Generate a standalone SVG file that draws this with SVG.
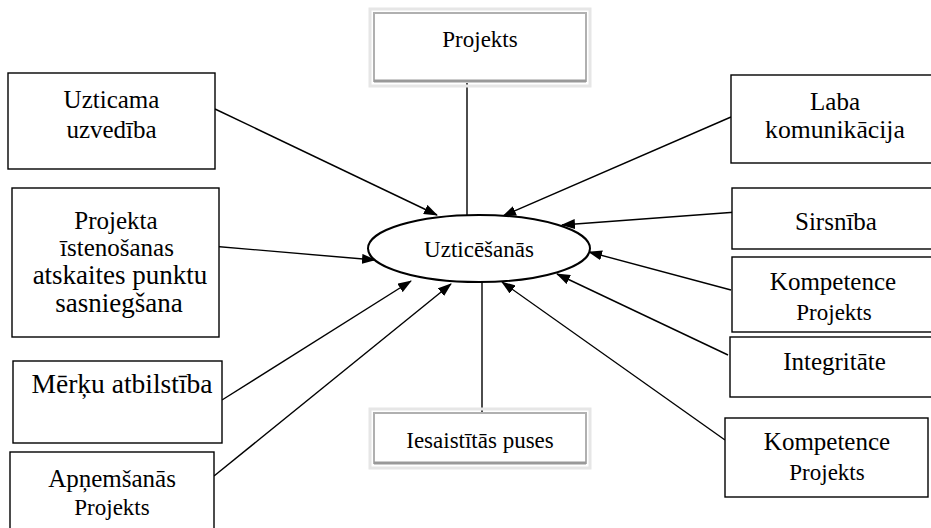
<svg xmlns="http://www.w3.org/2000/svg" width="931" height="528" viewBox="0 0 931 528">
<defs>
<style>
.box{fill:#fff;stroke:#000;stroke-width:1.4}
.sh-out{fill:none;stroke:#e6e6e6;stroke-width:3}
.sh-in{fill:#fff;stroke:#b0b0b0;stroke-width:2}
text{font-family:'Liberation Serif','Times New Roman',Times,serif;fill:#000;text-anchor:middle}
.f25{font-size:25px}
.f23{font-size:23px}
.f27{font-size:27px}
.c{stroke:#000;stroke-width:1.4;fill:none}
</style>
<marker id="ah" viewBox="0 0 14 10" refX="13" refY="5" markerWidth="14" markerHeight="10" markerUnits="userSpaceOnUse" orient="auto">
<path d="M0,0 L14,5 L0,10 z" fill="#000"/>
</marker>
</defs>
<rect width="931" height="528" fill="#fff"/>

<g id="connectors">
<line class="c" x1="467" y1="83" x2="467" y2="215"/>
<line class="c" x1="482" y1="282" x2="482" y2="412"/>
<line class="c" x1="215" y1="109" x2="437" y2="215" marker-end="url(#ah)"/>
<line class="c" x1="211" y1="246" x2="375" y2="260" marker-end="url(#ah)"/>
<line class="c" x1="222" y1="400" x2="411" y2="281" marker-end="url(#ah)"/>
<line class="c" x1="214" y1="476" x2="451" y2="284" marker-end="url(#ah)"/>
<line class="c" x1="731" y1="117" x2="503" y2="216" marker-end="url(#ah)"/>
<line class="c" x1="737" y1="212" x2="562" y2="225" marker-end="url(#ah)"/>
<line class="c" x1="731" y1="290" x2="589" y2="252" marker-end="url(#ah)"/>
<line class="c" x1="728" y1="355" x2="557" y2="274" marker-end="url(#ah)"/>
<line class="c" x1="725" y1="440" x2="502" y2="282" marker-end="url(#ah)"/>
</g>

<g id="n-projekts-top">
<rect class="sh-out" x="370" y="9" width="220" height="77"/>
<rect class="sh-in" x="374" y="13" width="212" height="68"/>
<line x1="374" y1="81" x2="586" y2="81" stroke="#999" stroke-width="3"/>
<text class="f23" x="480" y="47">Projekts</text>
</g>

<g id="n-uzticesanas">
<ellipse cx="479" cy="248.5" rx="111" ry="33.5" fill="#fff" stroke="#000" stroke-width="2"/>
<text class="f23" x="479" y="257">Uzticēšanās</text>
</g>

<g id="n-iesaistitas">
<rect class="sh-out" x="370" y="409" width="220" height="59"/>
<rect class="sh-in" x="374" y="413" width="212" height="50"/>
<line x1="374" y1="463" x2="586" y2="463" stroke="#999" stroke-width="3"/>
<text class="f23" x="480" y="448">Iesaistītās puses</text>
</g>

<g id="n-uzticama">
<rect class="box" x="8" y="73" width="207" height="96"/>
<text class="f25" x="111.5" y="108">Uzticama</text>
<text class="f25" x="111.5" y="138">uzvedība</text>
</g>

<g id="n-projekta">
<rect class="box" x="12" y="188" width="207" height="149"/>
<text class="f25" x="116" y="229">Projekta</text>
<text class="f25" x="117" y="256">īstenošanas</text>
<text class="f27" x="120" y="284">atskaites punktu</text>
<text class="f27" x="119" y="312">sasniegšana</text>
</g>

<g id="n-merku">
<rect class="box" x="13" y="361" width="209" height="82"/>
<text x="122" y="393" font-size="27.5">Mērķu atbilstība</text>
</g>

<g id="n-apnemsanas">
<rect class="box" x="10" y="452" width="204" height="90"/>
<text class="f25" x="112" y="487">Apņemšanās</text>
<text class="f23" x="112" y="515">Projekts</text>
</g>

<g id="n-laba">
<rect class="box" x="731" y="75" width="220" height="88"/>
<text class="f25" x="835" y="110">Laba</text>
<text x="835" y="138" font-size="25.7">komunikācija</text>
</g>

<g id="n-sirsniba">
<rect class="box" x="732" y="188" width="220" height="61"/>
<text class="f25" x="836" y="230">Sirsnība</text>
</g>

<g id="n-kompetence1">
<rect class="box" x="732" y="257" width="220" height="75"/>
<text class="f25" x="833" y="290">Kompetence</text>
<text class="f23" x="834" y="320">Projekts</text>
</g>

<g id="n-integritate">
<rect class="box" x="730" y="337" width="220" height="60"/>
<text class="f25" x="834.5" y="370">Integritāte</text>
</g>

<g id="n-kompetence2">
<rect class="box" x="725" y="418" width="203" height="79"/>
<text class="f25" x="827" y="450">Kompetence</text>
<text class="f23" x="827" y="480">Projekts</text>
</g>
</svg>
